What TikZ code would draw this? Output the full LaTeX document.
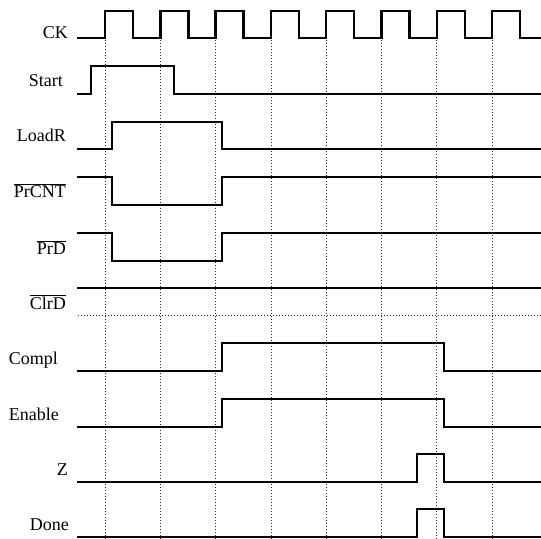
\documentclass[tikz,border=0pt]{standalone}
\usepackage{fontspec}
\setmainfont{Liberation Serif}
\usetikzlibrary{positioning}

\begin{document}
\begin{tikzpicture}[
 x=1bp,y=-1bp,
 w/.style={line width=2.5bp,line join=miter,line cap=rect},
 g/.style={line width=0.8bp,draw=black!85,dash pattern=on 1bp off 2bp},
 l/.style={anchor=base east,inner sep=0pt,font=\fontsize{18bp}{20bp}\selectfont}
]
\useasboundingbox (0,0) rectangle (541,539);
\foreach \k in {0,...,7} {\draw[g] ({105+55.3*\k},40)--({105+55.3*\k},539);}
\draw[g] (78,315)--(541,315);
\node[l] (ck) at (68,39) {CK};
\node[l] (start) at (63,87) {Start};
\node[l] (loadr) at (66,142) {LoadR};
\node[l] (prcnt) at (66,198) {$\overline{\mbox{PrCNT}}$};
\node[l] (prd) at (66,254) {$\overline{\mbox{PrD}}$};
\node[l] (clrd) at (66,309) {$\overline{\mbox{ClrD}}$};
\node[l] (compl) at (58,364) {Compl};
\node[l] (enable) at (59,420) {Enable};
\node[l] (z) at (68,475) {Z};
\node[l] (done) at (69,530) {Done};
\draw[w] (78,38) foreach \k in {0,...,7} {--({105+55.3*\k},38)--++(0,-27)--++(28,0)--++(0,27)} --(541,38);
\draw[w] (78,94)--(91,94)--(91,66)--(174,66)--(174,94)--(541,94);
\draw[w] (78,149)--(112,149)--(112,122)--(222,122)--(222,149)--(541,149);
\draw[w] (78,177)--(112,177)--(112,205)--(222,205)--(222,177)--(541,177);
\draw[w] (78,233)--(112,233)--(112,261)--(222,261)--(222,233)--(541,233);
\draw[w] (78,288)--(541,288);
\draw[w] (78,371)--(222,371)--(222,343)--(444,343)--(444,371)--(541,371);
\draw[w] (78,427)--(222,427)--(222,399)--(444,399)--(444,427)--(541,427);
\draw[w] (78,482)--(417,482)--(417,454)--(444,454)--(444,482)--(541,482);
\draw[w] (78,537)--(417,537)--(417,509)--(444,509)--(444,537)--(541,537);
\end{tikzpicture}
\end{document}
